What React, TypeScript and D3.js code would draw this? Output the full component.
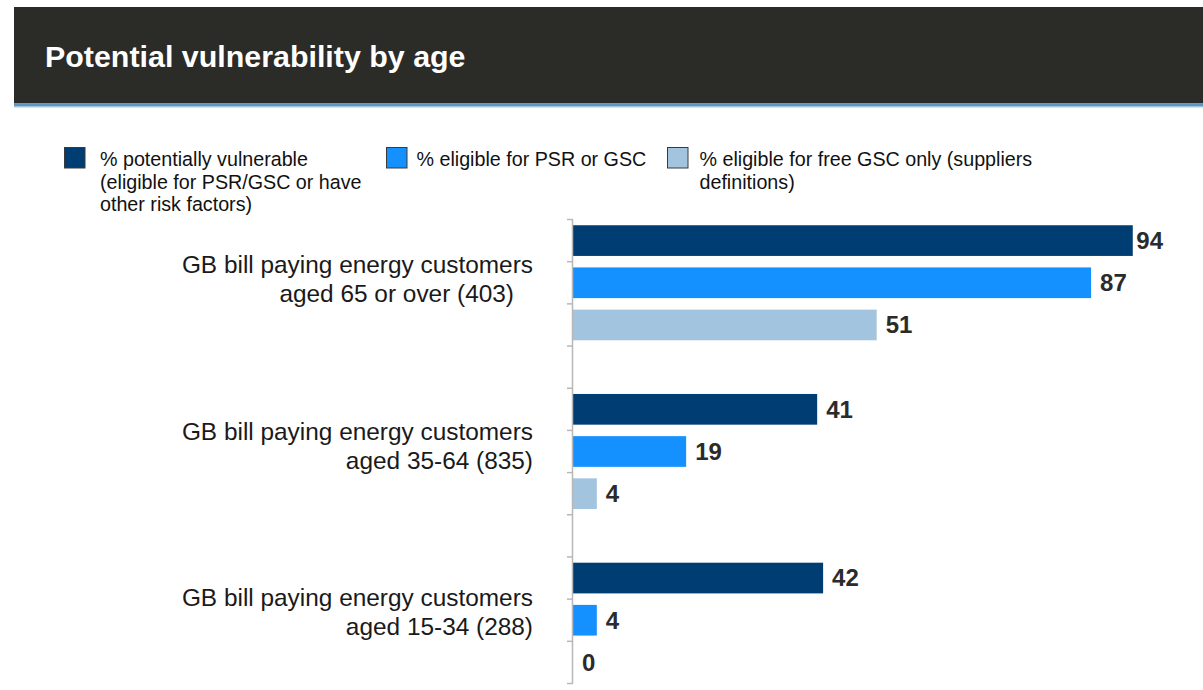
import React from "react";
import * as d3 from "d3";

const title = "Potential vulnerability by age";
const categoryLines: string[][] = [
  ["GB bill paying energy customers", "aged 65 or over (403)"],
  ["GB bill paying energy customers", "aged 35-64 (835)"],
  ["GB bill paying energy customers", "aged 15-34 (288)"],
];
const seriesNames: string[][] = [
  ["% potentially vulnerable", "(eligible for PSR/GSC or have", "other risk factors)"],
  ["% eligible for PSR or GSC"],
  ["% eligible for free GSC only (suppliers", "definitions)"],
];
const potentiallyVulnerable = [94, 41, 42];
const eligiblePSRorGSC = [87, 19, 4];
const freeGSCOnly = [51, 4, 0];
const seriesColors = ["#003d73", "#1490ff", "#a3c4df"];

const W = 1203;
const H = 690;
const FONT = "'Liberation Sans', Arial, Helvetica, sans-serif";

export default function App() {
  const series = [potentiallyVulnerable, eligiblePSRorGSC, freeGSCOnly];
  const nGroups = categoryLines.length;
  const slotsPerGroup = series.length + 1;
  const nSlots = nGroups * slotsPerGroup - 1;
  const axisX = 573;
  const x = d3.scaleLinear().domain([0, 100]).range([axisX, axisX + 595.5]);
  const slot = d3.scaleLinear().domain([0, nSlots]).range([219.5, 683.5]);
  const step = slot(1) - slot(0);
  const barH = 30.7;
  const barOff = (step - barH) / 2;
  const ticks = d3.range(nSlots + 1);
  const legendX = [64, 386, 667];
  const legendTextX = [100, 416.5, 699.5];
  const line2Offset = [19, 0, 0];
  const labelFont = 24;
  const labelRightLimit = 1163;

  return (
    <svg width={W} height={H} style={{ position: "absolute", left: 0, top: 0, background: "#fff" }} fontFamily={FONT}>
      <rect x={14} y={7} width={W - 14} height={96.5} fill="#2b2b27" />
      <rect x={14} y={103.5} width={W - 14} height={3.2} fill="#5b96c8" />
      <rect x={14} y={106.7} width={W - 14} height={1.3} fill="#d4e4f2" />
      <text x={45} y={67} fill="#ffffff" fontSize={30.4} fontWeight="bold">{title}</text>

      {seriesNames.map((lines, i) => (
        <g key={i}>
          <rect x={legendX[i] + 0.5} y={147.5} width={20.5} height={20.5} fill={seriesColors[i]} stroke="#3a3a3a" strokeWidth={1} />
          {lines.map((ln, j) => (
            <text key={j} x={legendTextX[i]} y={166 + j * 22.5} fontSize={19.7} fill="#111">{ln}</text>
          ))}
        </g>
      ))}

      {series.map((vals, s) =>
        vals.map((v, g) => {
          const y0 = slot(g * slotsPerGroup + s) + barOff;
          const w = String(v).length * 0.556 * labelFont;
          const lx = Math.min(x(v) + 9, labelRightLimit - w);
          return (
            <g key={`${s}-${g}`}>
              <rect x={x(0)} y={y0} width={x(v) - x(0)} height={barH} fill={seriesColors[s]} />
              <text x={lx} y={y0 + barH / 2} dy="0.35em" fontSize={labelFont} fontWeight="bold" fill="#2b2b2b">{v}</text>
            </g>
          );
        })
      )}

      <line x1={axisX - 0.5} x2={axisX - 0.5} y1={slot(0)} y2={slot(nSlots)} stroke="#b8b8b8" strokeWidth={1.5} />
      {ticks.map((t) => (
        <line key={t} x1={axisX - 6} x2={axisX} y1={slot(t)} y2={slot(t)} stroke="#b8b8b8" strokeWidth={1.5} />
      ))}

      {categoryLines.map((lines, g) => {
        const c = slot(g * slotsPerGroup + series.length / 2) - 2 * g;
        return (
          <g key={g}>
            <text x={533} y={c - 10} textAnchor="end" fontSize={24.4} fill="#1a1a1a">{lines[0]}</text>
            <text x={533 - line2Offset[g]} y={c + 19} textAnchor="end" fontSize={24.4} fill="#1a1a1a">{lines[1]}</text>
          </g>
        );
      })}
    </svg>
  );
}
